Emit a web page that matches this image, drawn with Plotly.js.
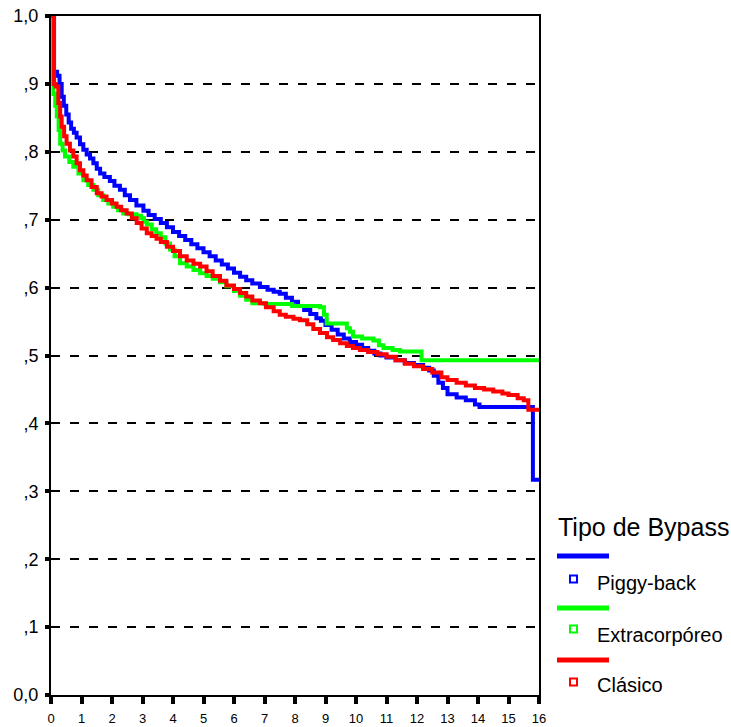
<!DOCTYPE html>
<html>
<head>
<meta charset="utf-8">
<script src="https://cdn.plot.ly/plotly-3.0.1.min.js"></script>
<style>html,body{margin:0;padding:0;background:#fff;}#chart{width:731px;height:727px;}</style>
</head>
<body>
<div id="chart"></div>
<script>
// ---- data ----
const seriesNames = ["Piggy-back", "Extracorpóreo", "Clásico"];
const seriesColors = ["#0000ff", "#00ff00", "#ff0000"];
const legendTitle = "Tipo de Bypass";

const piggyX = [0,0.1,0.2,0.28,0.35,0.42,0.5,0.58,0.66,0.75,0.84,0.95,1.06,1.17,1.28,1.39,1.5,1.61,1.75,1.93,2.08,2.26,2.42,2.59,2.8,3.03,3.2,3.4,3.6,3.8,4.0,4.2,4.4,4.6,4.8,5.0,5.2,5.4,5.6,5.8,6.0,6.2,6.4,6.6,6.85,7.1,7.3,7.5,7.7,7.9,8.1,8.3,8.5,8.7,8.85,9.0,9.2,9.4,9.6,9.8,10.0,10.2,10.4,10.6,10.8,11.0,11.3,11.6,11.9,12.2,12.4,12.55,12.7,12.85,13.0,13.3,13.6,13.9,14.05,15.8,15.8,16];
const piggyY = [1.0,0.918,0.912,0.9,0.881,0.868,0.855,0.843,0.834,0.828,0.821,0.811,0.803,0.796,0.79,0.783,0.775,0.768,0.763,0.757,0.75,0.744,0.736,0.729,0.721,0.713,0.707,0.701,0.695,0.689,0.682,0.676,0.67,0.664,0.658,0.652,0.646,0.64,0.634,0.628,0.622,0.616,0.611,0.606,0.601,0.597,0.594,0.591,0.585,0.579,0.573,0.567,0.561,0.555,0.551,0.545,0.538,0.531,0.525,0.52,0.516,0.511,0.507,0.503,0.5,0.497,0.493,0.489,0.486,0.482,0.478,0.47,0.46,0.452,0.443,0.438,0.434,0.428,0.424,0.424,0.317,0.317];

const extraX = [0,0.04,0.08,0.14,0.19,0.25,0.3,0.38,0.46,0.6,0.73,0.9,1.06,1.22,1.39,1.55,1.71,1.88,2.04,2.2,2.37,2.55,2.8,2.95,3.05,3.14,3.3,3.45,3.6,3.75,3.9,4.05,4.23,4.45,4.67,4.89,5.1,5.3,5.54,5.75,6.0,6.2,6.4,6.6,7.0,7.9,8.82,8.95,9.04,9.7,9.8,9.9,10.2,10.57,10.75,10.9,11.2,11.44,12.1,12.15,16];
const extraY = [1.0,0.9,0.885,0.868,0.852,0.832,0.812,0.802,0.793,0.785,0.778,0.768,0.758,0.751,0.744,0.736,0.729,0.724,0.719,0.714,0.709,0.708,0.706,0.702,0.697,0.693,0.686,0.68,0.674,0.665,0.656,0.646,0.636,0.631,0.626,0.621,0.617,0.613,0.608,0.602,0.595,0.588,0.582,0.577,0.576,0.573,0.571,0.56,0.547,0.54,0.535,0.528,0.525,0.522,0.515,0.511,0.508,0.506,0.506,0.493,0.493];

const clasicoX = [0,0.1,0.15,0.24,0.3,0.35,0.43,0.51,0.62,0.73,0.84,0.95,1.06,1.17,1.33,1.5,1.66,1.82,2.0,2.15,2.3,2.48,2.65,2.81,2.97,3.14,3.3,3.46,3.6,3.8,4.0,4.23,4.45,4.67,4.89,5.1,5.3,5.54,5.75,6.0,6.2,6.4,6.6,6.85,7.05,7.3,7.5,7.7,7.95,8.16,8.4,8.6,8.82,9.05,9.25,9.48,9.7,9.9,10.13,10.4,10.7,11.0,11.3,11.6,11.9,12.2,12.5,12.8,13.0,13.3,13.6,13.9,14.2,14.5,14.8,15.0,15.3,15.5,15.65,16];
const clasicoY = [1.0,0.9,0.896,0.872,0.852,0.837,0.823,0.812,0.802,0.793,0.783,0.773,0.765,0.758,0.748,0.739,0.734,0.729,0.724,0.719,0.714,0.709,0.702,0.695,0.687,0.68,0.676,0.672,0.667,0.66,0.654,0.646,0.64,0.635,0.631,0.624,0.617,0.61,0.603,0.598,0.592,0.587,0.581,0.577,0.571,0.565,0.56,0.557,0.554,0.552,0.546,0.539,0.533,0.527,0.523,0.518,0.514,0.511,0.508,0.505,0.502,0.498,0.493,0.488,0.484,0.48,0.475,0.468,0.464,0.46,0.456,0.452,0.45,0.447,0.444,0.442,0.437,0.434,0.42,0.42];

const xTickVals = [0,1,2,3,4,5,6,7,8,9,10,11,12,13,14,15,16];
const xTickText = ["0","1","2","3","4","5","6","7","8","9","10","11","12","13","14","15","16"];
const yTickVals = [0,0.1,0.2,0.3,0.4,0.5,0.6,0.7,0.8,0.9,1.0];
const yTickText = ["0,0",",1",",2",",3",",4",",5",",6",",7",",8",",9","1,0"];

// ---- chart ----
const FONT = "Liberation Sans, Arial, sans-serif";
const xs = [piggyX, extraX, clasicoX];
const ys = [piggyY, extraY, clasicoY];
const traces = xs.map((x, i) => ({
  x: x, y: ys[i], type: "scatter", mode: "lines", name: seriesNames[i],
  line: {color: seriesColors[i], width: 4, shape: "hv"},
  showlegend: false, hoverinfo: "skip"
}));

// legend (drawn manually, SPSS style)
const L = 51, R = 539, T = 16, B = 695;
const px = v => (v - L) / (R - L);
const py = v => (B - v) / (B - T);
const shapes = [];
const annotations = [{
  xref: "paper", yref: "paper", x: px(556), y: py(527), xanchor: "left", yanchor: "middle",
  text: legendTitle, showarrow: false, font: {family: FONT, size: 25, color: "#000"}
}];
const lineY = [556, 608, 660];
const markY = [579, 629, 682];
const textY = [583, 635, 685];
seriesNames.forEach((n, i) => {
  shapes.push({type: "line", xref: "paper", yref: "paper", x0: px(557), x1: px(609), y0: py(lineY[i]), y1: py(lineY[i]),
    line: {color: seriesColors[i], width: 5}});
  shapes.push({type: "rect", xref: "paper", yref: "paper", x0: px(570), x1: px(577), y0: py(markY[i] + 3.5), y1: py(markY[i] - 3.5),
    line: {color: seriesColors[i], width: 2}, fillcolor: "rgba(0,0,0,0)"});
  annotations.push({xref: "paper", yref: "paper", x: px(595), y: py(textY[i]), xanchor: "left", yanchor: "middle",
    text: n, showarrow: false, font: {family: FONT, size: 20, color: "#000"}});
});

const layout = {
  width: 731, height: 727,
  margin: {l: L, r: 731 - R, t: T, b: 727 - B},
  paper_bgcolor: "#fff", plot_bgcolor: "#fff",
  font: {family: FONT, color: "#000"},
  xaxis: {
    range: [0, 16], tickvals: xTickVals, ticktext: xTickText,
    showline: true, mirror: true, linecolor: "#000", linewidth: 2,
    ticks: "outside", ticklen: 7, tickwidth: 4, tickcolor: "#000",
    ticklabelstandoff: 3,
    showgrid: false, zeroline: false, tickfont: {family: FONT, size: 13}
  },
  yaxis: {
    range: [0, 1], tickvals: yTickVals, ticktext: yTickText,
    showline: true, mirror: true, linecolor: "#000", linewidth: 2,
    ticks: "outside", ticklen: 4, tickwidth: 4, tickcolor: "#000",
    ticklabelstandoff: 3,
    showgrid: true, gridcolor: "#000", gridwidth: 2, griddash: "9px,10px",
    zeroline: false, tickfont: {family: FONT, size: 18}
  },
  shapes: shapes, annotations: annotations
};
Plotly.newPlot("chart", traces, layout, {displayModeBar: false, staticPlot: true});
</script>
</body>
</html>
